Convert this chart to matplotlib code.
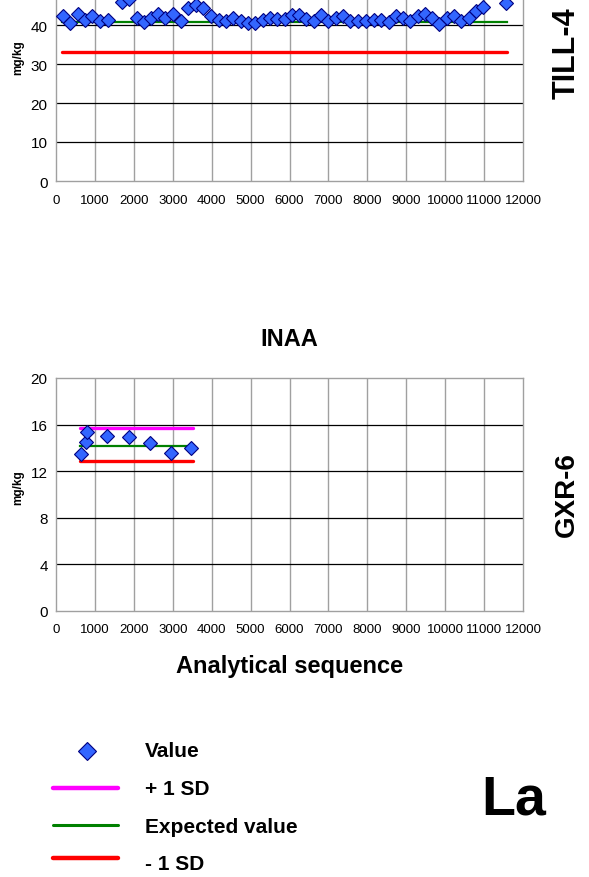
import numpy as np
import matplotlib.pyplot as plt

plt.rcParams["font.family"] = ["Liberation Sans", "DejaVu Sans"]

# TILL-4 (top panel, cut off at the top of the picture)
till_x = [187, 367, 556, 744, 931, 1128, 1326, 1692, 1879, 2077, 2264, 2436, 2623,
          2813, 3018, 3205, 3392, 3597, 3787, 3992, 4179, 4367, 4556, 4744, 4931,
          5121, 5308, 5495, 5685, 5872, 6059, 6249, 6436, 6623, 6813, 7000, 7187,
          7377, 7564, 7751, 7974, 8162, 8351, 8556, 8726, 8915, 9103, 9290, 9479,
          9667, 9854, 10044, 10231, 10418, 10608, 10795, 10982, 11564]
till_y = [42.2, 40.5, 42.7, 41.2, 42.2, 41.0, 41.2, 45.9, 46.7, 41.9, 40.7, 41.9, 42.9,
          41.7, 42.7, 41.0, 44.3, 45.1, 44.3, 42.2, 41.2, 40.9, 41.9, 40.9, 40.5,
          40.5, 41.2, 41.9, 41.5, 41.5, 42.6, 42.6, 41.5, 41.0, 42.6, 41.0, 41.9,
          42.2, 41.1, 40.9, 41.0, 41.2, 41.4, 40.7, 42.4, 41.7, 41.0, 42.2, 42.9,
          41.7, 40.3, 41.9, 42.4, 41.0, 41.7, 43.6, 44.6, 45.6]
till_range = [150, 11600]
till_expected = 40.8
till_plus = 48.6
till_minus = 33.0

# GXR-6 (INAA)
gxr_x = [643, 763, 789, 1319, 1869, 2409, 2949, 3478]
gxr_y = [13.5, 14.5, 15.4, 15.0, 14.9, 14.4, 13.6, 14.0]
gxr_range = [620, 3510]
gxr_expected = 14.2
gxr_plus = 15.7
gxr_minus = 12.9

xticks = np.arange(0, 12001, 1000)

W, H = 589, 878
fig = plt.figure(figsize=(W / 100, H / 100), dpi=100)


def px(left, top, right, bottom):
    return [left / W, 1 - bottom / H, (right - left) / W, (bottom - top) / H]


def panel(ax, x, y, rng, plus, exp, minus, ymax, ystep, ylabmax):
    ax.set_xlim(0, 12000)
    ax.set_ylim(0, ymax)
    ax.set_xticks(xticks)
    ax.set_yticks(np.arange(0, ylabmax + 0.1, ystep))
    for t in xticks[1:-1]:
        ax.axvline(t, color="#a0a0a0", lw=1.0, zorder=0)
    for t in np.arange(ystep, ymax, ystep):
        ax.axhline(t, color="black", lw=0.9, zorder=0)
    for s in ax.spines.values():
        s.set_color("#a0a0a0")
        s.set_linewidth(1.0)
    ax.tick_params(length=0)
    ax.tick_params(axis="x", labelsize=9.5, pad=9)
    ax.tick_params(axis="y", labelsize=11, pad=6)
    ax.plot(rng, [plus, plus], color="#ff00ff", lw=2.4, solid_capstyle="round", zorder=2)
    ax.plot(rng, [exp, exp], color="#008000", lw=1.6, zorder=2)
    ax.plot(rng, [minus, minus], color="#ff0000", lw=2.4, solid_capstyle="round", zorder=2)
    ax.plot(x, y, "D", color="#3366ff", mec="#000080", mew=0.8, ms=7, zorder=3)


ax1 = fig.add_axes(px(56, -13, 523, 182))
panel(ax1, till_x, till_y, till_range, till_plus, till_expected, till_minus, 50, 10, 40)
ax1.set_ylabel("mg/kg", fontsize=8.5, fontweight="bold")
ax1.yaxis.set_label_coords(-0.068, 0.636)
fig.text(567 / W, 1 - 53 / H, "TILL-4", rotation=90, fontsize=22, fontweight="bold",
         ha="center", va="center")

ax2 = fig.add_axes(px(56, 379, 523, 612))
panel(ax2, gxr_x, gxr_y, gxr_range, gxr_plus, gxr_expected, gxr_minus, 20, 4, 20)
ax2.set_ylabel("mg/kg", fontsize=8.5, fontweight="bold")
ax2.yaxis.set_label_coords(-0.068, 0.532)
ax2.set_title("INAA", fontsize=17, fontweight="bold", pad=24)
ax2.set_xlabel("Analytical sequence", fontsize=17, fontweight="bold", labelpad=13)
fig.text(567 / W, 1 - 495 / H, "GXR-6", rotation=90, fontsize=20, fontweight="bold",
         ha="center", va="center")

# legend drawn by hand below the chart
legend_labels = ["Value", "+ 1 SD", "Expected value", "- 1 SD"]
legend_y = [752, 790, 828, 865]
fig.lines.append(plt.Line2D([87 / W], [1 - 752 / H], marker="D", color="#3366ff",
                            mec="#000080", mew=0.8, ms=9, transform=fig.transFigure))
for yy, c, lw in [(789, "#ff00ff", 3.2), (826, "#008000", 2.2), (859, "#ff0000", 3.2)]:
    fig.lines.append(plt.Line2D([53 / W, 118 / W], [1 - yy / H] * 2, color=c, lw=lw,
                                solid_capstyle="round", transform=fig.transFigure))
for lab, yy in zip(legend_labels, legend_y):
    fig.text(145 / W, 1 - yy / H, lab, fontsize=15, fontweight="bold", va="center")
fig.text(514 / W, 1 - 801 / H, "La", fontsize=40, fontweight="bold",
         ha="center", va="center")

fig.savefig("out.png", dpi=100)
